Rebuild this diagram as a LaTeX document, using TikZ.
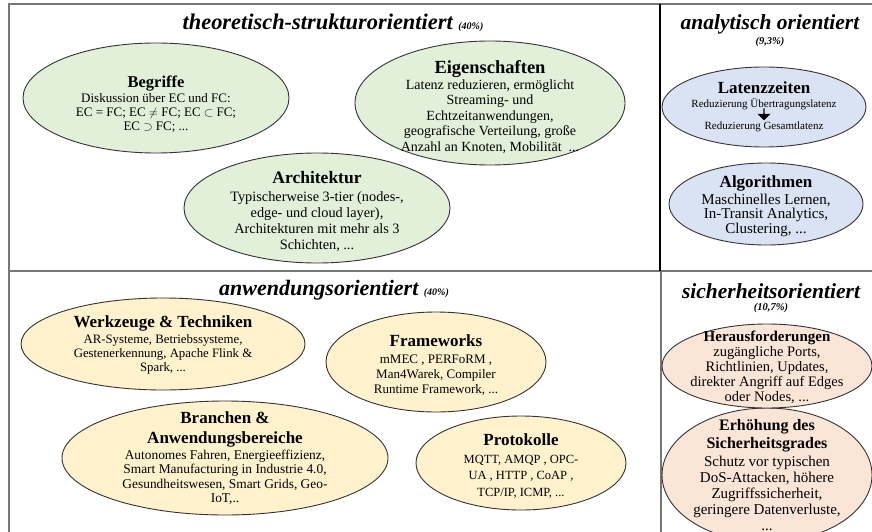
\documentclass[tikz,border=0pt]{standalone}
\usepackage{fontspec}
\setmainfont{Liberation Serif}
\usepackage{tikz}
\usetikzlibrary{shapes.geometric,shapes.arrows}
\definecolor{T}{RGB}{226,240,217}
\definecolor{A}{RGB}{218,227,243}
\definecolor{W}{RGB}{255,242,204}
\definecolor{S}{RGB}{251,229,214}
\definecolor{R}{RGB}{118,118,118}
\newcommand{\drawframe}{\draw[R, line width=1.6pt]}
\newcommand{\head}[2]{{\fontsize{#1}{#1}\selectfont\bfseries #2}}
\newcommand{\areatitle}[4]{\node[font=\fontsize{#3}{#3}\selectfont\bfseries\itshape] (#1) at (#2) {#4};}
\newcommand{\bubble}[9]{
    \node[bubble, fill=#1, minimum width=#4pt, minimum height=#5pt] (#2) at (#3) {};
    \node[bubbletext, font=\fontsize{#6}{#7}\selectfont] (#2-text) at ([yshift=-#8pt]#2.center) {#9};
}
\tikzset{bubble/.style={ellipse, draw=black!80, line width=0.9pt, inner sep=0pt},
    bubbletext/.style={align=center, inner sep=0pt}}

\begin{document}
\begin{tikzpicture}[x=1pt,y=-1pt]
\useasboundingbox (0,0) rectangle (872,532);
\drawframe (9,532)--(9,4)--(872,4);
\drawframe (9,271)--(872,271);
\draw[line width=2pt] (660,4)--(660,271);
\draw[R, line width=1.2pt] (661,271)--(661,532);
% Bereiche
\areatitle{theorie}{333,23}{22.4}{theoretisch-strukturorientiert {\fontsize{10}{10}\selectfont (40\%)}}
\areatitle{anwendung}{334,290}{22}{anwendungsorientiert {\fontsize{10}{10}\selectfont (40\%)}}
\areatitle{analytik}{770,24}{21.5}{analytisch orientiert}
\areatitle{analytikanteil}{770,42}{10.5}{(9,3\%)}
\areatitle{sicherheit}{771,291}{21.5}{sicherheitsorientiert}
\areatitle{sicherheitanteil}{771,308}{10.5}{(10,7\%)}
% theoretisch-strukturorientiert
\bubble{T}{begriffe}{156,98}{266}{110}{13}{14}{6}{\head{16.5}{Begriffe}\\[1pt] Diskussion über EC und FC:\\ EC = FC; EC $\neq$ FC; EC $\subset$ FC;\\ EC $\supset$ FC; ...}
\bubble{T}{eigenschaften}{490,103}{270}{124}{14}{15.5}{4}{\head{18.5}{Eigenschaften}\\ Latenz reduzieren, ermöglicht\\ Streaming- und\\ Echtzeitanwendungen,\\ geografische Verteilung, große\\ Anzahl an Knoten, Mobilität\ \ ...}
\bubble{T}{architektur}{317,208}{266}{110}{14.3}{16}{4}{\head{17.5}{Architektur}\\[2pt] Typischerweise 3-tier (nodes-,\\ edge- und cloud layer),\\ Architekturen mit mehr als 3\\ Schichten, ...}
% analytisch orientiert
\bubble{A}{latenzzeiten}{764,107}{204}{80}{11}{12}{0}{\head{17}{Latenzzeiten}\\[2pt] Reduzierung Übertragungslatenz\\[10pt] Reduzierung Gesamtlatenz}
\node[single arrow, fill=black, minimum width=13pt, minimum height=12pt, single arrow head extend=2pt, inner sep=0pt, rotate=-90] (pfeil) at (764,114) {};
\bubble{A}{algorithmen}{766,204}{194}{82}{15}{14.5}{2}{\head{17}{Algorithmen}\\[2pt] Maschinelles Lernen,\\ In-Transit Analytics,\\ Clustering, ...}
% anwendungsorientiert
\bubble{W}{werkzeuge}{163,344}{284}{92}{12.8}{14}{1}{\head{17}{Werkzeuge \& Techniken}\\[2pt] AR-Systeme, Betriebssysteme,\\ Gestenerkennung, Apache Flink \&\\ Spark, ...}
\bubble{W}{frameworks}{436,362}{220}{100}{13}{15}{3}{\head{17}{Frameworks}\\[2pt] mMEC , PERFoRM ,\\ Man4Warek, Compiler\\ Runtime Framework, ...}
\bubble{W}{branchen}{225,458}{326}{114}{13.4}{14.3}{0}{\head{17}{Branchen \&}\\[5.5pt] \head{17}{Anwendungsbereiche}\\[2pt] Autonomes Fahren, Energieeffizienz,\\ Smart Manufacturing in Industrie 4.0,\\ Gesundheitswesen, Smart Grids, Geo-\\ IoT,..}
\bubble{W}{protokolle}{521,463}{210}{94}{12.5}{16.5}{3}{\head{17}{Protokolle}\\[1pt] MQTT, AMQP , OPC-\\ UA , HTTP , CoAP ,\\ TCP/IP, ICMP, ...}
% sicherheitsorientiert
\bubble{S}{erhoehung}{767,475}{210}{134}{15}{16}{0}{\head{16}{Erhöhung des}\\[2pt] \head{16}{Sicherheitsgrades}\\[2pt] Schutz vor typischen\\ DoS-Attacken, höhere\\ Zugriffssicherheit,\\ geringere Datenverluste,\\ ...}
\bubble{S}{herausforderungen}{767,366}{210}{84}{14.5}{15}{1}{\head{15}{Herausforderungen}\\ zugängliche Ports,\\ Richtlinien, Updates,\\ direkter Angriff auf Edges\\ oder Nodes, ...}
\end{tikzpicture}
\end{document}
